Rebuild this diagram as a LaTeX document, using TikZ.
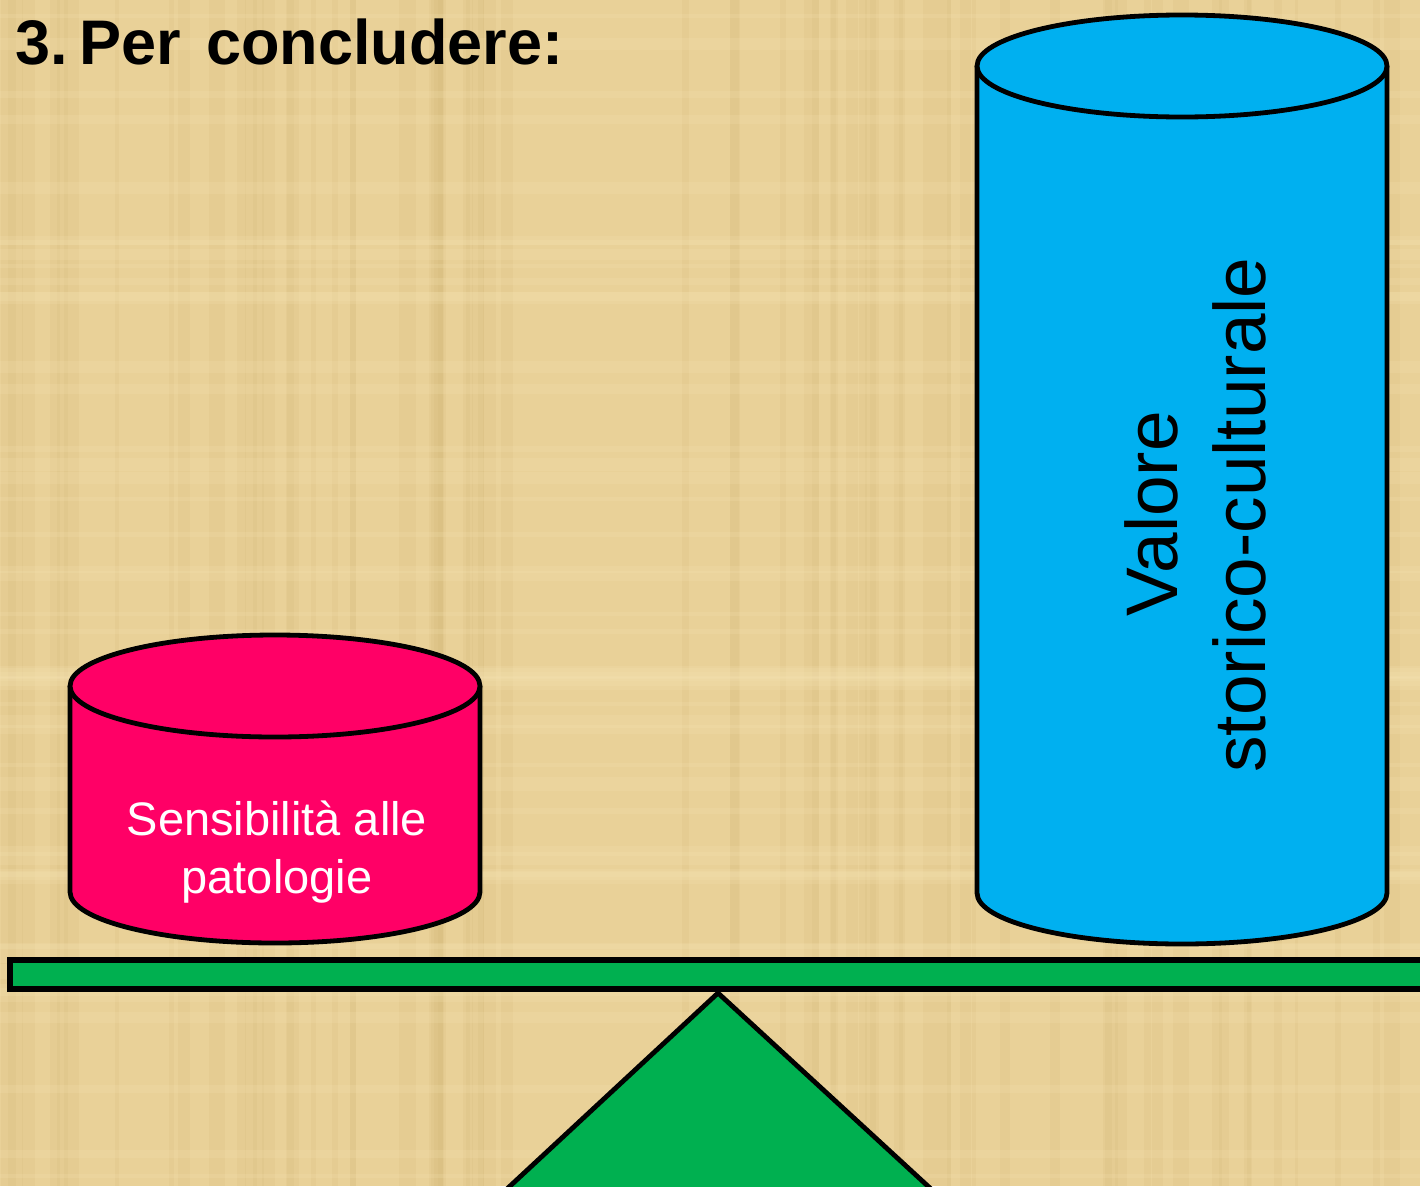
\documentclass[tikz,border=0pt]{standalone}
\usepackage{fontspec}
\setmainfont{Liberation Sans}
\definecolor{papyrus}{RGB}{233,209,152}
\definecolor{papdark}{RGB}{205,178,112}
\definecolor{paplight}{RGB}{246,228,180}
\definecolor{canblue}{RGB}{0,176,240}
\definecolor{canpink}{RGB}{255,0,102}
\definecolor{beamgreen}{RGB}{0,176,80}
\begin{document}
\begin{tikzpicture}[x=1pt,y=-1pt,
  outline/.style={draw=black,line width=4.8pt,line join=round},
  beamline/.style={draw=black,line width=5.2pt,line join=miter},
  titletext/.style={font=\fontsize{63}{75}\bfseries\selectfont,text=black,inner sep=0pt},
  pinktext/.style={font=\fontsize{47}{56}\selectfont,text=white,inner sep=0pt,anchor=base},
  bluetext/.style={font=\fontsize{73}{88}\selectfont,text=black,inner sep=0pt,anchor=base,rotate=90}]
\useasboundingbox (0,0) rectangle (1420,1186);
\clip (0,0) rectangle (1420,1186);
% papyrus background
\fill[papyrus] (0,0) rectangle (1420,1186);
\pgfmathsetseed{11}
\foreach \i in {1,...,70}{
  \pgfmathsetmacro{\xx}{rnd*1420}
  \pgfmathsetmacro{\ww}{3+rnd*14}
  \fill[papdark,opacity=0.14] (\xx,0) rectangle ++(\ww,1186);
}
\foreach \i in {1,...,50}{
  \pgfmathsetmacro{\yy}{rnd*1186}
  \pgfmathsetmacro{\hh}{3+rnd*12}
  \fill[paplight,opacity=0.2] (0,\yy) rectangle ++(1420,\hh);
}
% title
\node[titletext,anchor=base west] (title) at (15,64) {3.\kern12pt Per\kern25pt concludere:};
% pink cylinder (cx=275, rx=205, top cy=686, bottom cy=892, ry=51)
\fill[canpink] (70,686) -- (70,892) arc[start angle=180,end angle=0,x radius=205,y radius=51] -- (480,686) -- cycle;
\draw[outline] (70,686) -- (70,892) arc[start angle=180,end angle=0,x radius=205,y radius=51] -- (480,686);
\filldraw[fill=canpink,outline] (275,686) ellipse[x radius=205,y radius=51];
\node[pinktext] (sens1) at (277,835) {Sensibilità alle};
\node[pinktext] (sens2) at (277,893) {patologie};
% blue cylinder (cx=1182, rx=205, top cy=66, bottom cy=893, ry=51)
\fill[canblue] (977,66) -- (977,893) arc[start angle=180,end angle=0,x radius=205,y radius=51] -- (1387,66) -- cycle;
\draw[outline] (977,66) -- (977,893) arc[start angle=180,end angle=0,x radius=205,y radius=51] -- (1387,66);
\filldraw[fill=canblue,outline] (1182,66) ellipse[x radius=205,y radius=51];
\node[bluetext] (val1) at (1177,514) {Valore};
\node[bluetext] (val2) at (1265,515) {storico-culturale};
% beam
\filldraw[fill=beamgreen,beamline] (10,960) rectangle (1450,989);
% fulcrum
\filldraw[fill=beamgreen,outline,line join=miter] (718,993) -- (495,1200) -- (943,1200) -- cycle;
\end{tikzpicture}
\end{document}
